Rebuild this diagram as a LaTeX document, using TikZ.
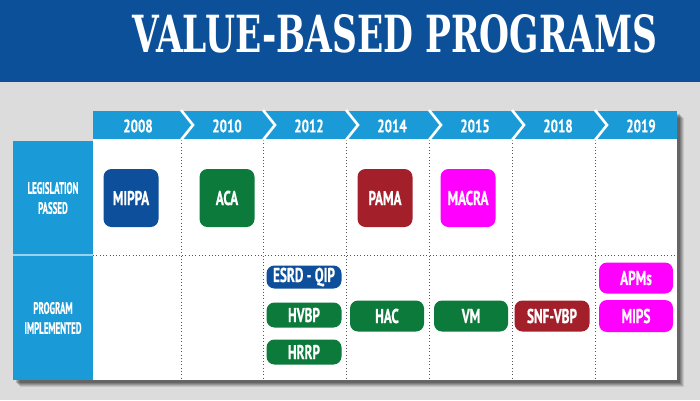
\documentclass[tikz,border=0pt]{standalone}
\usepackage{fontspec}
\usepackage{graphicx}
\setmainfont{PT Sans}
\newfontfamily\titlefont{DejaVu Serif}
\newfontfamily\boxfont[FakeStretch=0.66,FakeBold=0.6]{PT Sans}
\newfontfamily\yrfont[FakeStretch=0.72,FakeBold=0.4]{PT Sans}
\newfontfamily\labfont[FakeStretch=0.54,FakeBold=0.4]{PT Sans}
\definecolor{bgGray}{HTML}{DCDCDC}
\definecolor{titleBlue}{HTML}{0B5099}
\definecolor{hdrBlue}{HTML}{1A9BD7}
\definecolor{bxBlue}{HTML}{0D4F9A}
\definecolor{bxGreen}{HTML}{0B7A3B}
\definecolor{bxRed}{HTML}{A3202A}
\definecolor{bxMag}{HTML}{FF00FF}
\definecolor{dotGray}{HTML}{555555}
\tikzset{
  legbox/.style={rounded corners=8pt, text=white, inner sep=0pt, minimum width=55pt, minimum height=58pt, font=\boxfont\bfseries\fontsize{20}{22}\selectfont},
  pill/.style={rounded corners=8pt, text=white, inner sep=0pt, minimum width=74pt, font=\boxfont\bfseries\fontsize{20}{22}\selectfont},
  yeartxt/.style={text=white, inner sep=0pt, font=\yrfont\bfseries\fontsize{18}{20}\selectfont},
  rowlab/.style={text=white, align=center, inner sep=0pt, font=\labfont\bfseries\fontsize{16.5}{20}\selectfont},
  chev/.style={draw=white, line width=2.6pt},
  gridline/.style={draw=dotGray, line width=0.8pt, dash pattern=on 0.9pt off 2.4pt},
}
\begin{document}
\begin{tikzpicture}[x=1pt,y=-1pt]
\useasboundingbox (0,0) rectangle (700,400);
% background
\fill[bgGray] (0,0) rectangle (700,400);
\fill[titleBlue] (0,0) rectangle (700,82);
\node[anchor=south west, inner sep=0pt, text=white] (title) at (132,53)
  {\resizebox{525pt}{38pt}{\titlefont\bfseries VALUE-BASED PROGRAMS}};
% shadow
\foreach \o/\op in {7/0.10,6/0.12,5/0.14,4/0.16,3/0.18} {
  \fill[black, opacity=\op] (13+\o,141+\o) rectangle (677+\o,380+\o);
  \fill[black, opacity=\op] (93+\o,111+\o) rectangle (677+\o,141+\o);
}
% panel
\fill[white] (93,139) rectangle (677,380);
\fill[hdrBlue] (13,141) rectangle (93,380);
\fill[hdrBlue] (93,111) rectangle (677,139);
\draw[draw=white!55!hdrBlue, line width=1.5pt] (13,255) -- (93,255);
% grid
\coordinate (h0) at (93,255);
\coordinate (h1) at (677,255);
\draw[gridline] (h0) -- (h1);
\foreach \xx in {181,263,346,429,512,595} {
  \coordinate (t\xx) at (\xx,140);
  \coordinate (b\xx) at (\xx,380);
  \draw[gridline] (t\xx) -- (b\xx);
  \coordinate (ca\xx) at (\xx,110);
  \coordinate (cb\xx) at (\xx+12,125);
  \coordinate (cc\xx) at (\xx,140);
  \draw[chev] (ca\xx) -- (cb\xx) -- (cc\xx);
}
% years
\node[yeartxt] (y2008) at (138,126) {2008};
\node[yeartxt] (y2010) at (227,126) {2010};
\node[yeartxt] (y2012) at (309,126) {2012};
\node[yeartxt] (y2014) at (392,126) {2014};
\node[yeartxt] (y2015) at (475,126) {2015};
\node[yeartxt] (y2018) at (558,126) {2018};
\node[yeartxt] (y2019) at (641,126) {2019};
% row labels
\node[rowlab] (leg) at (53,198) {LEGISLATION\\PASSED};
\node[rowlab] (prog) at (53,318) {PROGRAM\\IMPLEMENTED};
% legislation boxes
\node[legbox, fill=bxBlue] (mippa) at (131,198) {MIPPA};
\node[legbox, fill=bxGreen] (aca) at (227,198) {ACA};
\node[legbox, fill=bxRed] (pama) at (385,198) {PAMA};
\node[legbox, fill=bxMag] (macra) at (468,198) {MACRA};
% program pills
\node[pill, fill=bxBlue, minimum width=75pt, minimum height=23pt] (esrd) at (304,277) {ESRD\,-\,QIP};
\node[pill, fill=bxGreen, minimum width=75pt, minimum height=25pt] (hvbp) at (304,315) {HVBP};
\node[pill, fill=bxGreen, minimum width=75pt, minimum height=25pt] (hrrp) at (304,352) {HRRP};
\node[pill, fill=bxGreen, minimum height=31pt] (hac) at (387,316) {HAC};
\node[pill, fill=bxGreen, minimum height=31pt] (vm) at (471,316) {VM};
\node[pill, fill=bxRed, minimum width=75pt, minimum height=31pt] (snf) at (552,316) {SNF-VBP};
\node[pill, fill=bxMag, minimum height=31pt] (apms) at (636,278) {APMs};
\node[pill, fill=bxMag, minimum height=32pt] (mips) at (636,316) {MIPS};
\end{tikzpicture}
\end{document}
